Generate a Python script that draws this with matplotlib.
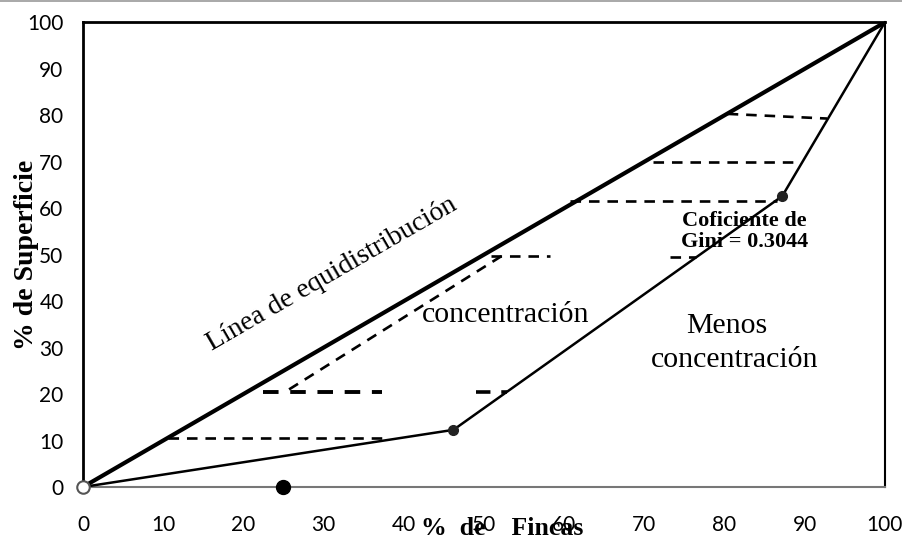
import numpy as np
import matplotlib.pyplot as plt
from matplotlib.lines import Line2D

# datos
eq_x = [0, 100]
eq_y = [0, 100]
lor_x = [0, 46.2, 87.2, 100]
lor_y = [0, 12.3, 62.6, 100]
# tramos punteados (x0, x1, y0, y1)
tramos = [
    (10.6, 37.3, 10.6, 10.6),
    (22.4, 37.3, 20.4, 20.4),
    (25.7, 52.2, 21.0, 49.7),
    (50.9, 58.3, 49.7, 49.7),
    (49.0, 52.9, 20.5, 20.5),
    (73.2, 76.5, 49.5, 49.5),
    (60.7, 86.6, 61.6, 61.6),
    (71.1, 89.3, 70.0, 70.0),
    (80.4, 92.8, 80.3, 79.3),
]
grosor = [1.9, 2.8, 1.9, 1.9, 2.6, 1.9, 1.9, 1.9, 1.9]
puntos_x = [46.2, 87.2]
puntos_y = [12.3, 62.6]
ticks = np.arange(0, 101, 10)
gini = 0.3044

serif = 'Liberation Serif'
sans = 'Lato'

fig = plt.figure(figsize=(9.02, 5.39), dpi=100)
ax = fig.add_axes([0.092, 0.0965, 0.889, 0.862])

ax.plot(eq_x, eq_y, color='black', lw=3.0, solid_capstyle='butt', zorder=3)
ax.plot(lor_x, lor_y, color='black', lw=1.8, zorder=3)
for (x0, x1, y0, y1), g in zip(tramos, grosor):
    ax.plot([x0, x1], [y0, y1], color='black', lw=g, ls=(0, (4, 3)), zorder=2)

ax.plot(puntos_x, puntos_y, 'o', color='#222222', ms=7, zorder=4)
ax.plot([25], [0], 'o', color='black', ms=10, zorder=4, clip_on=False)
ax.plot([0], [0], 'o', mfc='white', mec='#555555', mew=1.5, ms=9, zorder=4, clip_on=False)

ax.set_xlim(0, 100)
ax.set_ylim(0, 100)
ax.set_xticks(ticks)
ax.set_yticks(ticks)
ax.tick_params(length=0, labelsize=15, colors='black')
ax.tick_params(axis='x', pad=20)
ax.tick_params(axis='y', pad=14)
for lab in ax.get_xticklabels() + ax.get_yticklabels():
    lab.set_fontfamily(sans)

for s in ['left', 'top']:
    ax.spines[s].set_linewidth(2.0)
ax.spines['right'].set_linewidth(1.5)
ax.spines['bottom'].set_linewidth(1.5)
ax.spines['bottom'].set_color('#777777')

ax.text(31.1, 45.8, 'Línea de equidistribución', rotation=30, rotation_mode='anchor',
        ha='center', va='center', family=serif, fontsize=20)
ax.text(52.7, 37.1, 'concentración', ha='center', va='center', family=serif,
        fontsize=21.5, zorder=5)
ax.text(80.3, 34.6, 'Menos', ha='center', va='center', family=serif, fontsize=21.5)
ax.text(81.3, 27.4, 'concentración', ha='center', va='center', family=serif,
        fontsize=21.5)
ax.text(82.5, 55.0, 'Coficiente de\nGini = ' + str(gini), ha='center', va='center',
        family=serif, fontsize=16, fontweight='bold', linespacing=1.1, zorder=5)

ax.text(-7.1, 50, '% de Superficie', rotation=90, ha='center', va='center',
        family=serif, fontsize=20, fontweight='bold', clip_on=False)
ax.text(42.2, -9.0, '%  de    Fincas', ha='left', va='center',
        family=serif, fontsize=18.5, fontweight='bold', clip_on=False)

# linea gris del escaneo arriba
fig.add_artist(Line2D([0, 1], [0.998, 0.998], color='#999999', lw=1.2))

fig.savefig('out.png', dpi=100)
